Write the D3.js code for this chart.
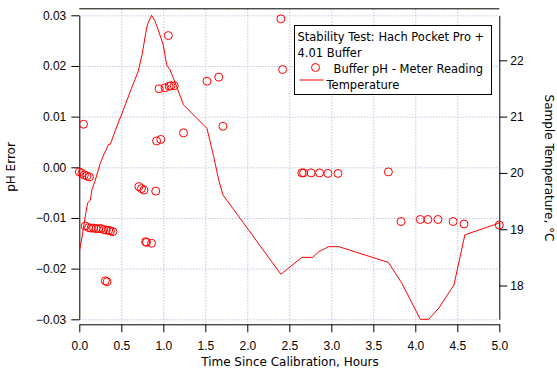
<!DOCTYPE html>
<html>
<head>
<meta charset="utf-8">
<script src="https://cdn.jsdelivr.net/npm/d3@7"></script>
<style>
  body { margin: 0; background: #fff; }
  svg { display: block; font-family: "DejaVu Sans", Verdana, sans-serif; }
  .grid line { stroke: #a4a4d4; stroke-dasharray: 1,2; }
  .axis path, .axis line { stroke: #000; }
  .axis text { font-size: 12px; fill: #000; }
</style>
</head>
<body>
<svg id="chart"></svg>
<script>
// pH error readings (hours since calibration, pH error)
const readingHours = [
  0.00, 0.03, 0.05, 0.06, 0.07, 0.09, 0.11, 0.12, 0.14, 0.17, 0.20, 0.23,
  0.26, 0.29, 0.31, 0.32, 0.33, 0.35, 0.37, 0.40, 0.71, 0.74, 0.77, 0.79,
  0.80, 0.86, 0.91, 0.92, 0.95, 0.97, 1.02, 1.06, 1.07, 1.09, 1.13, 1.24,
  1.52, 1.66, 1.71, 2.40, 2.42, 2.65, 2.67, 2.76, 2.86, 2.96, 3.08, 3.68,
  3.83, 4.06, 4.15, 4.27, 4.45, 4.58, 5.00
];
const phError = [
  -0.0009, -0.0012, 0.0085, -0.0015, -0.0116, -0.0017, -0.0119, -0.0019, -0.0120, -0.0120, -0.0121, -0.0121,
  -0.0121, -0.0123, -0.0224, -0.0124, -0.0226, -0.0124, -0.0126, -0.0127, -0.0038, -0.0042, -0.0045, -0.0147,
  -0.0148, -0.0150, -0.0047, 0.0052, 0.0155, 0.0055, 0.0157, 0.0260, 0.0160, 0.0161, 0.0161, 0.0068,
  0.0170, 0.0178, 0.0081, 0.0293, 0.0193, -0.0011, -0.0011, -0.0011, -0.0011, -0.0012, -0.0012, -0.0009,
  -0.0107, -0.0103, -0.0103, -0.0103, -0.0107, -0.0112, -0.0114
];

// sample temperature trace
const tempHours = [
  0.00, 0.03, 0.07, 0.10, 0.13, 0.15, 0.19, 0.25, 0.29, 0.35, 0.37, 0.43,
  0.54, 0.62, 0.70, 0.75, 0.79, 0.81, 0.86, 0.90, 0.94, 1.00, 1.04, 1.08,
  1.16, 1.24, 1.52, 1.60, 1.66, 1.71, 2.40, 2.65, 2.78, 2.85, 2.97, 3.09,
  3.68, 3.84, 4.06, 4.16, 4.28, 4.46, 4.59, 5.00
];
const temperatureC = [
  18.60, 18.84, 19.22, 19.47, 19.51, 19.70, 19.87, 20.17, 20.32, 20.51, 20.51, 20.76,
  21.18, 21.50, 21.80, 22.12, 22.48, 22.63, 22.80, 22.70, 22.54, 22.27, 21.92, 21.83,
  21.53, 21.21, 20.79, 20.29, 19.87, 19.61, 18.20, 18.50, 18.50, 18.60, 18.69, 18.69,
  18.41, 18.04, 17.40, 17.40, 17.60, 18.01, 18.90, 19.11
];

const xTicks = [0, 0.5, 1, 1.5, 2, 2.5, 3, 3.5, 4, 4.5, 5];
const phTicks = [-0.03, -0.02, -0.01, 0, 0.01, 0.02, 0.03];
const tempTicks = [18, 19, 20, 21, 22];

const legendTitle = ['Stability Test: Hach Pocket Pro +', '4.01 Buffer'];
const seriesNames = ['Buffer pH - Meter Reading', 'Temperature'];

class StabilityChart {
  constructor(id) {
    this.width = 420;
    this.height = 304;
    this.margin = {left: 79.3, top: 15.3};
    this.red = '#ff0000';
    this.root = d3.select(id).attr('width', 557).attr('height', 370);
    this.svg = this.root.append('g')
      .attr('transform', `translate(${this.margin.left}, ${this.margin.top})`);

    this.xScale = d3.scaleLinear().domain([0, 5]).range([0, this.width]);
    this.phScale = d3.scaleLinear().domain([-0.03, 0.03]).range([this.height, 0]);
    this.tempScale = d3.scaleLinear().domain([17.4, 22.8]).range([this.height, 0]);

    this.drawGrid();
    this.drawAxes();
    this.drawTemperature();
    this.drawReadings();
    this.drawLegend();
    this.drawLabels();
  }

  drawGrid() {
    const grid = this.svg.append('g').attr('class', 'grid');
    grid.selectAll('.gx')
      .data(xTicks.filter(d => d > 0 && d < 5))
      .enter()
      .append('line')
      .attr('x1', d => this.xScale(d) + 0.5)
      .attr('x2', d => this.xScale(d) + 0.5)
      .attr('y1', -6)
      .attr('y2', this.height + 5);
    grid.selectAll('.gy')
      .data(phTicks)
      .enter()
      .append('line')
      .attr('x1', 0)
      .attr('x2', this.width)
      .attr('y1', d => this.phScale(d) + 0.5)
      .attr('y2', d => this.phScale(d) + 0.5);
  }

  drawAxes() {
    const leftAxis = d3.axisLeft(this.phScale)
      .tickValues(phTicks)
      .tickFormat(d3.format('.2f'))
      .tickSize(8)
      .tickSizeOuter(0)
      .tickPadding(5);
    this.svg.append('g')
      .attr('class', 'axis')
      .call(leftAxis);

    const rightAxis = d3.axisRight(this.tempScale)
      .tickValues(tempTicks)
      .tickFormat(d3.format('d'))
      .tickSize(8)
      .tickSizeOuter(0)
      .tickPadding(3);
    this.svg.append('g')
      .attr('class', 'axis')
      .attr('transform', `translate(${this.width}, 0)`)
      .call(rightAxis);

    const bottomAxis = d3.axisBottom(this.xScale)
      .tickValues(xTicks)
      .tickFormat(d3.format('.1f'))
      .tickSize(8)
      .tickSizeOuter(0)
      .tickPadding(9);
    this.svg.append('g')
      .attr('class', 'axis')
      .attr('transform', `translate(0, ${this.height + 5})`)
      .call(bottomAxis);

    // top frame line
    this.svg.append('line')
      .attr('x1', 0)
      .attr('x2', this.width)
      .attr('y1', -6.5)
      .attr('y2', -6.5)
      .attr('stroke', '#000');
  }

  drawTemperature() {
    const tempData = tempHours.map((t, i) => ({t: t, v: temperatureC[i]}));
    const line = d3.line()
      .x(d => this.xScale(d.t))
      .y(d => this.tempScale(d.v));
    this.svg.append('path')
      .datum(tempData)
      .attr('d', line)
      .attr('fill', 'none')
      .attr('stroke', this.red)
      .attr('stroke-width', 1);
  }

  drawReadings() {
    const readings = readingHours.map((t, i) => ({t: t, v: phError[i]}));
    this.svg.selectAll('.reading')
      .data(readings)
      .enter()
      .append('circle')
      .attr('class', 'reading')
      .attr('cx', d => this.xScale(d.t))
      .attr('cy', d => this.phScale(d.v))
      .attr('r', 4)
      .attr('fill', 'none')
      .attr('stroke', this.red)
      .attr('stroke-width', 1);
  }

  drawLegend() {
    const legend = this.root.append('g').attr('transform', 'translate(294.5, 25.5)');
    legend.append('rect')
      .attr('width', 197)
      .attr('height', 69)
      .attr('fill', '#fff')
      .attr('stroke', '#000');
    legend.selectAll('.title')
      .data(legendTitle)
      .enter()
      .append('text')
      .attr('x', 3)
      .attr('y', (d, i) => 15 + i * 16)
      .attr('font-size', 11.5)
      .text(d => d);
    legend.append('circle')
      .attr('cx', 21)
      .attr('cy', 42)
      .attr('r', 4)
      .attr('fill', 'none')
      .attr('stroke', this.red);
    legend.append('text')
      .attr('x', 39)
      .attr('y', 47)
      .attr('font-size', 11.5)
      .text(seriesNames[0]);
    legend.append('line')
      .attr('x1', 5)
      .attr('x2', 29)
      .attr('y1', 54.5)
      .attr('y2', 54.5)
      .attr('stroke', this.red);
    legend.append('text')
      .attr('x', 32)
      .attr('y', 63)
      .attr('font-size', 11.5)
      .text(seriesNames[1]);
  }

  drawLabels() {
    this.root.append('text')
      .attr('transform', 'translate(15, 167) rotate(-90)')
      .attr('text-anchor', 'middle')
      .attr('font-size', 12)
      .text('pH Error');
    this.root.append('text')
      .attr('transform', 'translate(545, 168) rotate(90)')
      .attr('text-anchor', 'middle')
      .attr('font-size', 12)
      .text('Sample Temperature, °C');
    this.root.append('text')
      .attr('x', 290)
      .attr('y', 366)
      .attr('text-anchor', 'middle')
      .attr('font-size', 12)
      .text('Time Since Calibration, Hours');
  }
}

new StabilityChart('#chart');
</script>
</body>
</html>
